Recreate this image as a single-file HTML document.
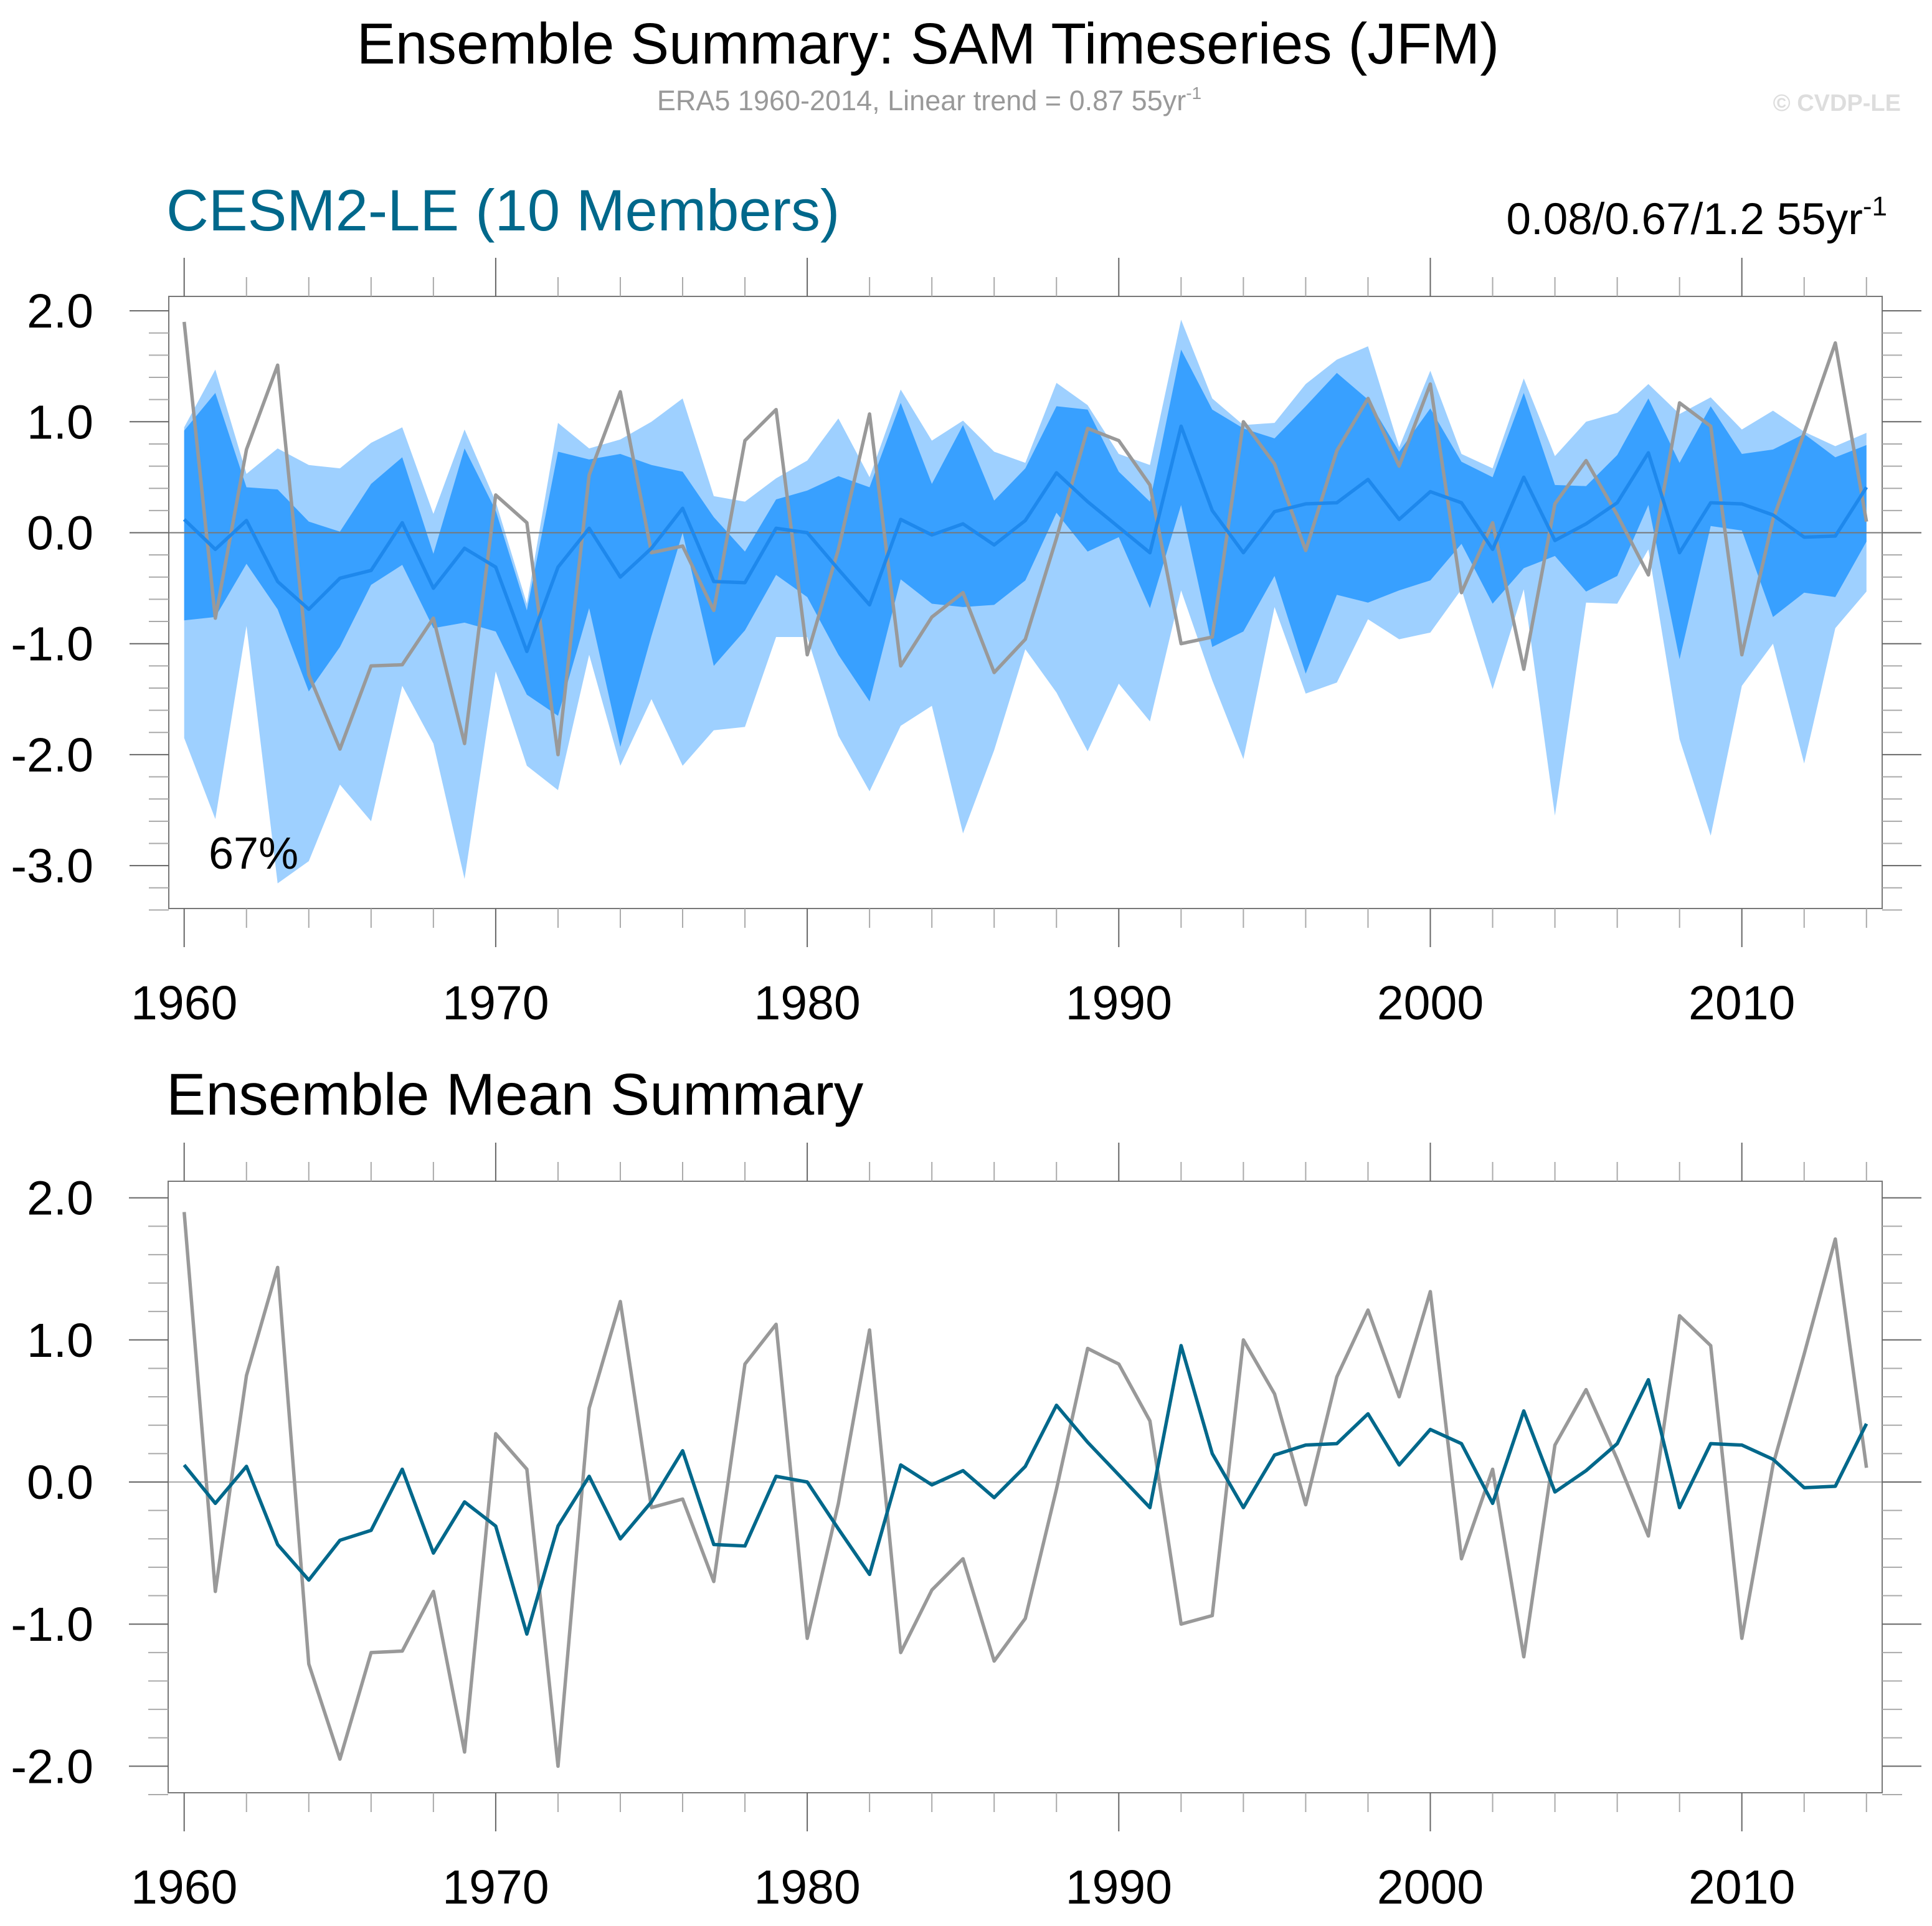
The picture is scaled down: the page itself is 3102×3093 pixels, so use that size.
<!DOCTYPE html>
<html><head><meta charset="utf-8"><style>
html,body{margin:0;padding:0;background:#fff;}
svg{display:block;font-family:"Liberation Sans",Arial,sans-serif;}
</style></head><body>
<svg id="chart" xmlns="http://www.w3.org/2000/svg" width="3102" height="3093" viewBox="0 0 3102 3093">
<rect x="0" y="0" width="3102" height="3093" fill="#fff"/>
<text x="1490" y="102" font-size="93" text-anchor="middle" fill="#000">Ensemble Summary: SAM Timeseries (JFM)</text>
<text x="1492" y="177" font-size="45" text-anchor="middle" fill="#999">ERA5 1960-2014, Linear trend = 0.87 55yr<tspan dy="-18" font-size="28">-1</tspan></text>
<text x="3052" y="178" font-size="38" font-weight="bold" text-anchor="end" fill="#ddd">© CVDP-LE</text>
<text x="267" y="370" font-size="94" fill="#00688b">CESM2-LE (10 Members)</text>
<text x="3030" y="376" font-size="71" text-anchor="end" fill="#000">0.08/0.67/1.2 55yr<tspan dy="-30" font-size="44">-1</tspan></text>
<text x="267" y="1790" font-size="95" fill="#000">Ensemble Mean Summary</text>
<g id="top"></g>
<g id="bot"></g>
</svg>
<script>
const years = [];
for (let y = 1960; y <= 2014; y++) years.push(y);
const era5 = [1.9,-0.77,0.75,1.51,-1.28,-1.95,-1.2,-1.19,-0.77,-1.9,0.34,0.09,-2.0,0.52,1.27,-0.18,-0.12,-0.7,0.83,1.11,-1.1,-0.15,1.07,-1.2,-0.76,-0.54,-1.26,-0.96,-0.05,0.94,0.83,0.43,-1.0,-0.94,1.0,0.62,-0.16,0.74,1.21,0.6,1.34,-0.54,0.09,-1.23,0.26,0.65,0.16,-0.38,1.17,0.96,-1.1,0.12,0.9,1.71,0.1];
const ensMean = [0.12,-0.15,0.11,-0.44,-0.69,-0.41,-0.34,0.09,-0.5,-0.14,-0.31,-1.07,-0.31,0.04,-0.4,-0.14,0.22,-0.44,-0.45,0.04,0.0,-0.33,-0.65,0.12,-0.02,0.08,-0.11,0.11,0.54,0.28,0.05,-0.18,0.96,0.2,-0.18,0.19,0.26,0.27,0.48,0.12,0.37,0.27,-0.15,0.5,-0.07,0.08,0.27,0.72,-0.18,0.27,0.26,0.16,-0.04,-0.03,0.41];
const outerMax = [0.95,1.47,0.53,0.76,0.61,0.58,0.81,0.95,0.17,0.93,0.28,-0.64,0.99,0.76,0.84,1.0,1.21,0.33,0.28,0.49,0.65,1.03,0.5,1.29,0.83,1.01,0.73,0.63,1.35,1.15,0.71,0.61,1.92,1.21,0.97,0.99,1.34,1.56,1.68,0.77,1.46,0.71,0.58,1.39,0.69,1.0,1.08,1.34,1.07,1.22,0.93,1.1,0.91,0.78,0.9];
const innerMax = [0.92,1.26,0.41,0.39,0.10,0.01,0.44,0.68,-0.19,0.76,0.2,-0.7,0.73,0.66,0.71,0.61,0.55,0.14,-0.17,0.30,0.38,0.51,0.41,1.17,0.44,0.97,0.29,0.58,1.14,1.11,0.55,0.28,1.65,1.11,0.94,0.85,1.14,1.44,1.2,0.73,1.12,0.64,0.5,1.26,0.43,0.42,0.7,1.21,0.63,1.14,0.71,0.75,0.89,0.68,0.79];
const innerMin = [-0.79,-0.76,-0.28,-0.69,-1.43,-1.03,-0.47,-0.29,-0.86,-0.81,-0.89,-1.46,-1.65,-0.68,-1.93,-0.93,0.0,-1.2,-0.88,-0.38,-0.58,-1.1,-1.52,-0.42,-0.64,-0.67,-0.65,-0.43,0.18,-0.17,-0.04,-0.68,0.25,-1.03,-0.89,-0.39,-1.27,-0.56,-0.63,-0.52,-0.43,-0.1,-0.64,-0.32,-0.21,-0.53,-0.39,0.25,-1.14,0.06,0.02,-0.76,-0.54,-0.58,-0.08];
const outerMin = [-1.85,-2.58,-0.84,-3.16,-2.96,-2.27,-2.6,-1.38,-1.9,-3.12,-1.25,-2.1,-2.32,-1.1,-2.1,-1.5,-2.1,-1.78,-1.75,-0.94,-0.94,-1.83,-2.33,-1.74,-1.56,-2.71,-1.96,-1.05,-1.44,-1.97,-1.36,-1.7,-0.52,-1.33,-2.04,-0.67,-1.45,-1.35,-0.78,-0.96,-0.9,-0.51,-1.41,-0.51,-2.55,-0.63,-0.64,-0.15,-1.86,-2.73,-1.38,-1.0,-2.08,-0.86,-0.53];
const topTicks = [2.0,1.0,0.0,-1.0,-2.0,-3.0];
const botTicks = [2.0,1.0,0.0,-1.0,-2.0];
const xTicks = [1960,1970,1980,1990,2000,2010];

const NS = "http://www.w3.org/2000/svg";
function el(tag, attrs, parent) {
  const e = document.createElementNS(NS, tag);
  for (const k in attrs) e.setAttribute(k, attrs[k]);
  parent.appendChild(e);
  return e;
}
const X0 = 295.7, DX = 50.02;
function xs(yr) { return X0 + (yr - 1960) * DX; }

function panel(g, box, y0, unit, yMin, yMax, ticks, meanColor, withBands) {
  const ys = v => y0 - v * unit;
  if (withBands) {
    let d1 = "", d2 = "";
    years.forEach((yr, i) => { d1 += (i ? "L" : "M") + xs(yr) + "," + ys(outerMax[i]); });
    for (let i = years.length - 1; i >= 0; i--) d1 += "L" + xs(years[i]) + "," + ys(outerMin[i]);
    years.forEach((yr, i) => { d2 += (i ? "L" : "M") + xs(yr) + "," + ys(innerMax[i]); });
    for (let i = years.length - 1; i >= 0; i--) d2 += "L" + xs(years[i]) + "," + ys(innerMin[i]);
    const b1 = el("path", {d: d1 + "Z", fill: "#9ed0ff"}, g);
    
    
    const b2 = el("path", {d: d2 + "Z", fill: "#38a0ff"}, g);
    
    
  }
  const zl = el("line", {x1: box.l, x2: box.r, y1: ys(0), y2: ys(0), stroke: withBands ? "#777" : "#aaa", "stroke-width": 2}, g);
  
  
  const pe = years.map((yr, i) => xs(yr) + "," + ys(era5[i])).join(" ");
  const l1 = el("polyline", {points: pe, fill: "none", stroke: "#999", "stroke-width": 5.5, "stroke-linejoin": "round"}, g);
  
  
  const pm = years.map((yr, i) => xs(yr) + "," + ys(ensMean[i])).join(" ");
  const l2 = el("polyline", {points: pm, fill: "none", stroke: meanColor, "stroke-width": 5.5, "stroke-linejoin": "round"}, g);
  
  
  const fr = el("rect", {x: box.l, y: box.t, width: box.r - box.l, height: box.b - box.t, fill: "none", stroke: "#777", "stroke-width": 2}, g);
  
  
  for (let yr = 1960; yr <= 2014; yr += 2) {
    const major = (yr % 10 === 0);
    const len = major ? 62 : 31;
    const x = xs(yr);
    const c = major ? "#666" : "#aaa";
    const t1 = el("line", {x1: x, x2: x, y1: box.t - len, y2: box.t, stroke: c, "stroke-width": 2}, g);
    
    
    const t2 = el("line", {x1: x, x2: x, y1: box.b, y2: box.b + len, stroke: c, "stroke-width": 2}, g);
    
    
  }
  xTicks.forEach(yr => {
    const t = el("text", {x: xs(yr), y: box.b + 178, "font-size": 77, "text-anchor": "middle", fill: "#000"}, g);
    
    
    t.textContent = yr;
  });
  for (let k = Math.round(yMin * 5); k <= Math.round(yMax * 5); k++) {
    const v = k / 5;
    const major = (k % 5 === 0);
    const len = major ? 63 : 32;
    const y = ys(v);
    const c = major ? "#666" : "#aaa";
    const a = el("line", {x1: box.l - len, x2: box.l, y1: y, y2: y, stroke: c, "stroke-width": 2}, g);
    
    
    const b = el("line", {x1: box.r, x2: box.r + len, y1: y, y2: y, stroke: c, "stroke-width": 2}, g);
    
    
  }
  ticks.forEach(v => {
    const t = el("text", {x: 150, y: ys(v) + 27, "font-size": 77, "text-anchor": "end", fill: "#000"}, g);
    
    
    t.textContent = v.toFixed(1);
  });
}
panel(document.getElementById("top"), {l: 271, r: 3022, t: 476, b: 1459}, 855.5, 178.2, -3.4, 2.0, topTicks, "#1e88ec", true);
panel(document.getElementById("bot"), {l: 270, r: 3022, t: 1897, b: 2879}, 2380, 228.2, -2.2, 2.0, botTicks, "#00688b", false);
const pct = el("text", {x: 335, y: 1395, "font-size": 72, fill: "#000"}, document.getElementById("top"));


pct.textContent = "67%";
</script>
</body></html>
